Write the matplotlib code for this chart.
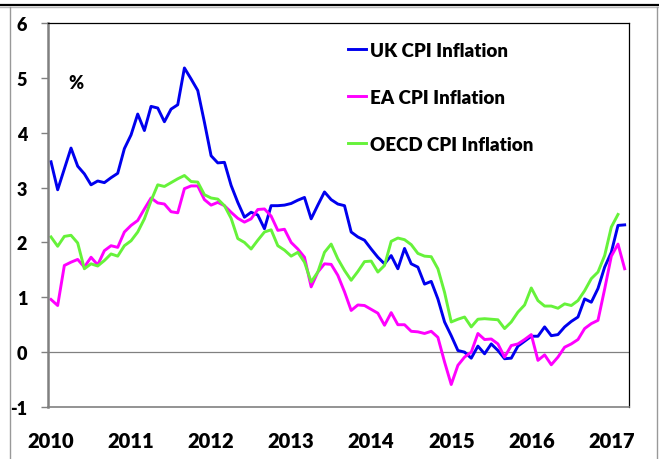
import matplotlib
matplotlib.use("Agg")
import matplotlib.pyplot as plt
from matplotlib.lines import Line2D

plt.rcParams["font.family"] = ["Lato", "DejaVu Sans"]
plt.rcParams["font.weight"] = "heavy"

# monthly data, month 0 = Jan 2010
uk = [3.47, 2.96, 3.34, 3.72, 3.39, 3.25, 3.05, 3.12, 3.09, 3.18, 3.26, 3.71,
      3.96, 4.34, 4.04, 4.48, 4.45, 4.20, 4.43, 4.51, 5.18, 4.98, 4.77, 4.19,
      3.58, 3.45, 3.46, 3.04, 2.73, 2.46, 2.55, 2.50, 2.25, 2.67, 2.67, 2.68,
      2.71, 2.77, 2.82, 2.43, 2.68, 2.92, 2.78, 2.70, 2.67, 2.19, 2.10, 2.04,
      1.88, 1.73, 1.61, 1.76, 1.52, 1.89, 1.61, 1.55, 1.24, 1.29, 0.97, 0.55,
      0.30, 0.03, 0.00, -0.11, 0.11, -0.03, 0.15, 0.03, -0.12, -0.11, 0.11, 0.20,
      0.29, 0.29, 0.46, 0.30, 0.32, 0.46, 0.56, 0.64, 0.97, 0.91, 1.16, 1.55,
      1.82, 2.31, 2.32]
ea = [0.96, 0.85, 1.58, 1.64, 1.69, 1.55, 1.73, 1.59, 1.85, 1.94, 1.91, 2.19,
      2.31, 2.40, 2.61, 2.81, 2.72, 2.70, 2.56, 2.54, 2.98, 3.03, 3.03, 2.78,
      2.68, 2.73, 2.67, 2.55, 2.44, 2.37, 2.43, 2.60, 2.61, 2.48, 2.22, 2.24,
      2.00, 1.88, 1.73, 1.19, 1.46, 1.61, 1.60, 1.40, 1.10, 0.76, 0.86, 0.85,
      0.78, 0.71, 0.49, 0.72, 0.50, 0.50, 0.38, 0.37, 0.34, 0.38, 0.27, -0.18,
      -0.59, -0.24, -0.09, 0.00, 0.34, 0.23, 0.24, 0.15, -0.09, 0.12, 0.15, 0.23,
      0.32, -0.15, -0.05, -0.23, -0.09, 0.09, 0.15, 0.23, 0.43, 0.52, 0.58, 1.15,
      1.75, 1.97, 1.52]
oecd = [2.10, 1.93, 2.11, 2.13, 1.99, 1.52, 1.61, 1.57, 1.67, 1.79, 1.75, 1.94,
        2.03, 2.19, 2.43, 2.76, 3.05, 3.02, 3.09, 3.16, 3.22, 3.11, 3.10, 2.87,
        2.81, 2.79, 2.67, 2.44, 2.07, 2.00, 1.88, 2.04, 2.19, 2.23, 1.94, 1.86,
        1.75, 1.82, 1.64, 1.28, 1.46, 1.82, 1.97, 1.70, 1.49, 1.31, 1.47, 1.65,
        1.66, 1.46, 1.58, 2.02, 2.08, 2.05, 1.96, 1.80, 1.75, 1.74, 1.52, 1.09,
        0.55, 0.60, 0.64, 0.46, 0.60, 0.61, 0.60, 0.59, 0.43, 0.55, 0.73, 0.86,
        1.17, 0.94, 0.84, 0.84, 0.80, 0.88, 0.85, 0.94, 1.12, 1.34, 1.46, 1.76,
        2.28, 2.51]
years = ["2010", "2011", "2012", "2013", "2014", "2015", "2016", "2017"]

fig = plt.figure(figsize=(6.59, 4.60), dpi=100)
ax = fig.add_axes([48 / 659, 1 - 408 / 460, 581 / 659, 384 / 460])

ax.axhline(0, color="#808080", lw=0.9, zorder=1)
ax.plot(range(len(uk)), uk, color="#0000EE", lw=2.1, label="UK CPI Inflation")
ax.plot(range(len(ea)), ea, color="#FF00FF", lw=2.1, label="EA CPI Inflation")
ax.plot(range(len(oecd)), oecd, color="#66F23A", lw=2.1, label="OECD CPI Inflation")

ax.set_xlim(-0.45, 86.65)
ax.set_ylim(-1, 6)
ax.set_yticks(range(-1, 7))
ax.set_yticklabels([str(v) for v in range(-1, 7)], fontsize=13, fontweight="heavy")
ax.set_xticks(range(0, 85, 12))
ax.set_xticklabels(years, fontsize=14.5, fontweight="heavy")
ax.tick_params(axis="y", direction="out", length=5, width=1, color="#808080", pad=10)
ax.tick_params(axis="x", length=0, pad=17)

ax.spines["left"].set_color("#808080")
ax.spines["left"].set_linewidth(1.8)
ax.spines["bottom"].set_color("#808080")
ax.spines["bottom"].set_linewidth(1.2)
ax.spines["top"].set_linewidth(0.9)
ax.spines["right"].set_linewidth(0.9)

ax.text(0.035, 0.83, "%", transform=ax.transAxes, fontsize=13, fontweight="heavy")

ax.legend(loc="upper left", bbox_to_anchor=(348 / 659, 1 - 43 / 460),
          bbox_transform=fig.transFigure, frameon=False,
          handlelength=0.95, handletextpad=0.2, labelspacing=1.6,
          borderpad=0, borderaxespad=0, prop={"weight": "heavy", "size": 13.5})

# outer frame lines
fig.add_artist(Line2D([0, 1], [1 - 6 / 460] * 2, color="black", lw=1.6))
fig.add_artist(Line2D([0, 1], [1 - 8 / 460] * 2, color="#BBBBBB", lw=1.0))
fig.add_artist(Line2D([10 / 659] * 2, [0, 1 - 8 / 460], color="#999999", lw=1.0))
fig.add_artist(Line2D([657 / 659] * 2, [0, 1 - 8 / 460], color="#999999", lw=1.0))

fig.savefig("out.png", dpi=100)
